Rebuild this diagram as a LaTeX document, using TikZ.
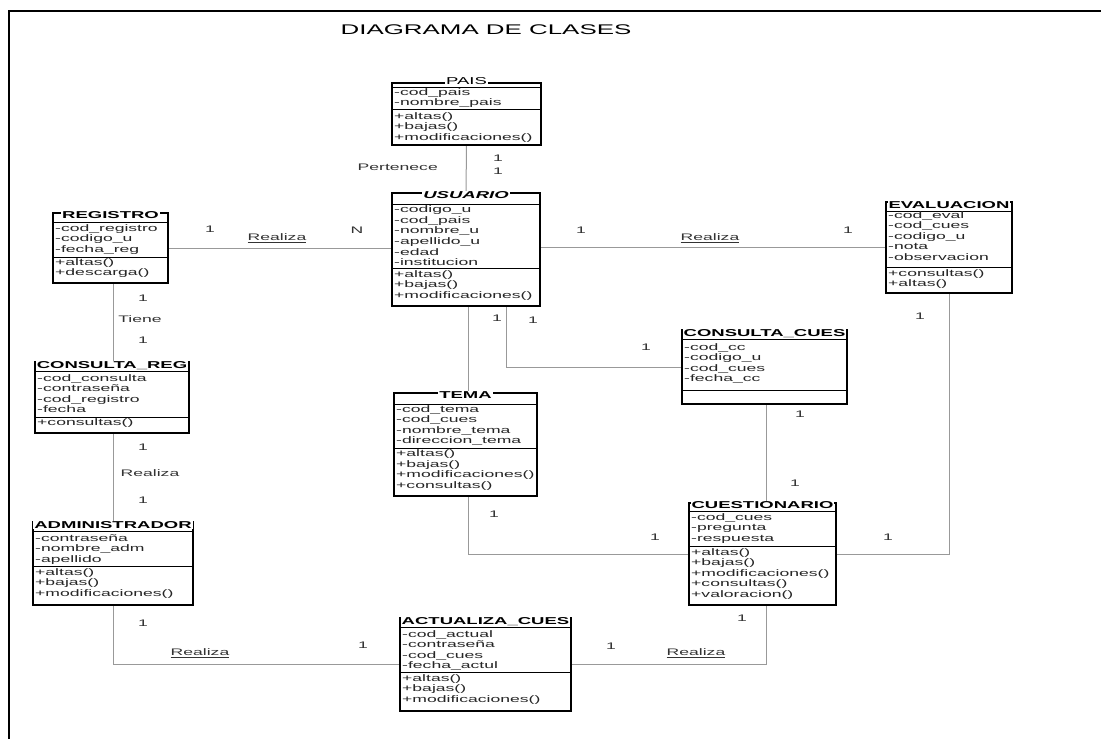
\documentclass[tikz,border=0pt]{standalone}
\usepackage{fontspec}
\setmainfont{Liberation Sans}
\newfontfamily\ds[FakeStretch=1.85]{Liberation Sans}
\usetikzlibrary{backgrounds}
\tikzset{
  classbox/.style={draw=black, line width=1.3pt, inner sep=0pt, outer sep=0pt},
  sepline/.style={draw=black, line width=0.9pt},
  conn/.style={draw=black!40, line width=1pt},
  ctitle/.style={font=\ds\fontsize{10}{12}\selectfont\bfseries, fill=white, inner xsep=1pt, inner ysep=0.5pt, anchor=base},
  members/.style={font=\ds\fontsize{9.5}{10.6}\selectfont, align=left, anchor=north west, inner sep=0pt, text=black!85},
  lbl/.style={font=\ds\fontsize{9.5}{11}\selectfont, inner sep=0pt, text=black!80},
}
\newcommand\umlbox[7]{%
  \pgfmathsetmacro\bw{#4-#2}\pgfmathsetmacro\bh{#5-#3}%
  \node[classbox, minimum width=\bw pt, minimum height=\bh pt] (#1) at ({(#2+#4)/2},{(#3+#5)/2}) {};
  \node[ctitle] (#1-t) at ({(#2+#4)/2},#6+3.6) {#7};
}
\newcommand\hsep[2]{\draw[sepline] (#1.west |- 0,#2) -- (#1.east |- 0,#2);}
\begin{document}
\begin{tikzpicture}[x=1pt,y=-1pt]
\useasboundingbox (0,0) rectangle (1101,739);
% frame and title
\draw[line width=1.8pt] (9,739) -- (9,11) -- (1101,11);
\node[font=\ds\fontsize{14}{16}\selectfont, inner sep=0pt] (title) at (486,30) {DIAGRAMA DE CLASES};

% ---------- classes ----------
\umlbox{pais}{392}{83}{541}{145}{81}{\mdseries PAIS}
\hsep{pais}{87}\hsep{pais}{109}
\node[members] (pais-a) at (394,87.5) {\strut-cod\_pais\\-nombre\_pais};
\node[members] (pais-m) at (394,111.5) {\strut+altas()\\+bajas()\\+modificaciones()};

\umlbox{usuario}{392}{193}{540}{306}{195}{\itshape USUARIO}
\hsep{usuario}{204}\hsep{usuario}{268}
\node[members] (usuario-a) at (394,205) {\strut-codigo\_u\\-cod\_pais\\-nombre\_u\\-apellido\_u\\-edad\\-institucion};
\node[members] (usuario-m) at (394,269.5) {\strut+altas()\\+bajas()\\+modificaciones()};

\umlbox{registro}{53}{213}{168}{283}{215}{REGISTRO}
\hsep{registro}{222}\hsep{registro}{257}
\node[members] (registro-a) at (55,223.5) {\strut-cod\_registro\\-codigo\_u\\-fecha\_reg};
\node[members] (registro-m) at (55,257.5) {\strut+altas()\\+descarga()};

\umlbox{evaluacion}{886}{202}{1012}{293}{205}{EVALUACION}
\hsep{evaluacion}{211}\hsep{evaluacion}{267}
\node[members] (evaluacion-a) at (888,210.5) {\strut-cod\_eval\\-cod\_cues\\-codigo\_u\\-nota\\-observacion};
\node[members] (evaluacion-m) at (888,268.5) {\strut+consultas()\\+altas()};

\umlbox{consultareg}{35}{362}{189}{433}{365}{CONSULTA\_REG}
\hsep{consultareg}{371}\hsep{consultareg}{417}
\node[members] (consultareg-a) at (37,373.5) {\strut-cod\_consulta\\-contraseña\\-cod\_registro\\-fecha};
\node[members] (consultareg-m) at (37,418) {\strut+consultas()};

\umlbox{consultacues}{682}{330}{847}{404}{333}{CONSULTA\_CUES}
\hsep{consultacues}{339}\hsep{consultacues}{390}
\node[members] (consultacues-a) at (684,342.5) {\strut-cod\_cc\\-codigo\_u\\-cod\_cues\\-fecha\_cc};

\umlbox{tema}{394}{393}{537}{496}{395}{TEMA}
\hsep{tema}{404}\hsep{tema}{448}
\node[members] (tema-a) at (396,404.5) {\strut-cod\_tema\\-cod\_cues\\-nombre\_tema\\-direccion\_tema};
\node[members] (tema-m) at (396,449) {\strut+altas()\\+bajas()\\+modificaciones()\\+consultas()};

\umlbox{cuestionario}{689}{503}{836}{605}{505}{CUESTIONARIO}
\hsep{cuestionario}{511}\hsep{cuestionario}{546}
\node[members] (cuestionario-a) at (691,512.5) {\strut-cod\_cues\\-pregunta\\-respuesta};
\node[members] (cuestionario-m) at (691,547.5) {\strut+altas()\\+bajas()\\+modificaciones()\\+consultas()\\+valoracion()};

\umlbox{admin}{33}{522}{193}{605}{525}{ADMINISTRADOR}
\hsep{admin}{531}\hsep{admin}{566}
\node[members] (admin-a) at (35,533.5) {\strut-contraseña\\-nombre\_adm\\-apellido};
\node[members] (admin-m) at (35,567.5) {\strut+altas()\\+bajas()\\+modificaciones()};

\umlbox{actualiza}{400}{618}{571}{711}{621}{ACTUALIZA\_CUES}
\hsep{actualiza}{627}\hsep{actualiza}{672}
\node[members] (actualiza-a) at (402,629.5) {\strut-cod\_actual\\-contraseña\\-cod\_cues\\-fecha\_actul};
\node[members] (actualiza-m) at (402,673.5) {\strut+altas()\\+bajas()\\+modificaciones()};

% ---------- connectors ----------
\coordinate (vl) at (113,0);
\coordinate (vu1) at (468,0);
\coordinate (vu2) at (506,0);
\coordinate (vc) at (766,0);
\coordinate (ve) at (949,0);
\begin{pgfonlayer}{background}
\fill[white] (0,0) rectangle (1101,739);
\draw[conn] (pais.south) -- (usuario.north);
\draw[conn] (registro.east) -- (registro.east -| usuario.west);
\draw[conn] (usuario.east |- evaluacion.west) -- (evaluacion.west);
\draw[conn] (registro.south -| vl) -- (consultareg.north -| vl);
\draw[conn] (consultareg.south -| vl) -- (admin.north -| vl);
\draw[conn] (usuario.south -| vu2) |- (consultacues.west);
\draw[conn] (usuario.south -| vu1) -- (tema.north -| vu1);
\draw[conn] (tema.south -| vu1) |- (cuestionario.west);
\draw[conn] (consultacues.south -| vc) -- (cuestionario.north -| vc);
\draw[conn] (evaluacion.south -| ve) |- (cuestionario.east);
\draw[conn] (admin.south -| vl) |- (actualiza.west);
\draw[conn] (cuestionario.south -| vc) |- (actualiza.east);
\end{pgfonlayer}

% ---------- labels ----------
\node[lbl, anchor=east] (l-pert) at (438,167) {Pertenece};
\node[lbl] (l1) at (498,158) {1};
\node[lbl] (l2) at (498,171) {1};
\node[lbl] (l3) at (210,229) {1};
\node[lbl] (l4) at (277,238) {\underline{Realiza}};
\node[lbl] (l5) at (357,230) {N};
\node[lbl] (l6) at (581,230) {1};
\node[lbl] (l7) at (710,238) {\underline{Realiza}};
\node[lbl] (l8) at (848,230) {1};
\node[lbl] (l9) at (143,298) {1};
\node[lbl] (l10) at (140,319) {Tiene};
\node[lbl] (l11) at (143,340) {1};
\node[lbl] (l12) at (143,447) {1};
\node[lbl] (l13) at (150,473) {Realiza};
\node[lbl] (l14) at (143,500) {1};
\node[lbl] (l15) at (497,318) {1};
\node[lbl] (l16) at (533,320) {1};
\node[lbl] (l17) at (646,347) {1};
\node[lbl] (l18) at (494,514) {1};
\node[lbl] (l19) at (655,537) {1};
\node[lbl] (l20) at (800,414) {1};
\node[lbl] (l21) at (795,483) {1};
\node[lbl] (l22) at (920,316) {1};
\node[lbl] (l23) at (888,537) {1};
\node[lbl] (l24) at (143,623) {1};
\node[lbl] (l25) at (200,653) {\underline{Realiza}};
\node[lbl] (l26) at (363,645) {1};
\node[lbl] (l27) at (742,618) {1};
\node[lbl] (l28) at (611,646) {1};
\node[lbl] (l29) at (696,653) {\underline{Realiza}};
\end{tikzpicture}
\end{document}
